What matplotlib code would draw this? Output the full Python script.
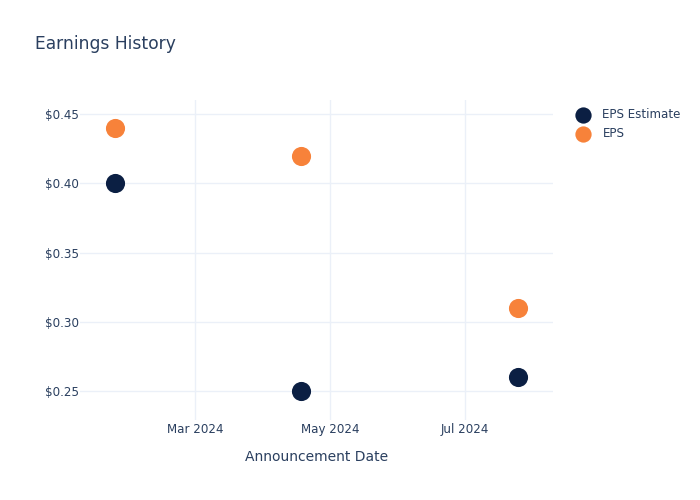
import matplotlib
matplotlib.use('Agg')
import matplotlib.pyplot as plt
import matplotlib.dates as mdates
import pandas as pd

# earnings data
dates = pd.to_datetime(['2024-01-25', '2024-04-18', '2024-07-25'])
eps_estimate = [0.40, 0.25, 0.26]
eps_actual = [0.44, 0.42, 0.31]

text_color = '#2a3f5f'
grid_color = '#ebf0f8'

fig = plt.figure(figsize=(7, 5), dpi=100)
ax = fig.add_axes([80 / 700, 80 / 500, 473 / 700, 320 / 500])

ax.scatter(dates, eps_estimate, s=190, color='#0b1f43', label='EPS Estimate', zorder=3, linewidths=0)
ax.scatter(dates, eps_actual, s=190, color='#f7823a', label='EPS', zorder=3, linewidths=0)

ax.set_xlim(pd.Timestamp('2024-01-09'), pd.Timestamp('2024-08-10'))
ax.set_ylim(0.2291, 0.4601)

ax.xaxis.set_major_locator(mdates.MonthLocator(bymonth=[3, 5, 7]))
ax.xaxis.set_major_formatter(mdates.DateFormatter('%b %Y'))
ax.set_yticks([0.25, 0.30, 0.35, 0.40, 0.45])
ax.set_yticklabels(['$%.2f' % v for v in [0.25, 0.30, 0.35, 0.40, 0.45]])

ax.grid(True, color=grid_color, linewidth=1)
ax.set_axisbelow(True)
for s in ax.spines.values():
    s.set_visible(False)
ax.tick_params(length=0, labelsize=8.6, colors=text_color)
ax.tick_params(axis='y', pad=0.8)
ax.tick_params(axis='x', pad=2.5)

ax.set_xlabel('Announcement Date', fontsize=10, color=text_color, labelpad=10)
fig.text(35 / 700, 1 - 44 / 500, 'Earnings History', fontsize=12.3, color=text_color, va='center', ha='left')

leg = fig.legend(loc='upper left', bbox_to_anchor=(560 / 700, 1 - 97 / 500), frameon=False,
                 fontsize=8.6, handletextpad=0.65, labelspacing=0.5, markerscale=0.85)
for t in leg.get_texts():
    t.set_color(text_color)

plt.savefig('out.png', dpi=100)
